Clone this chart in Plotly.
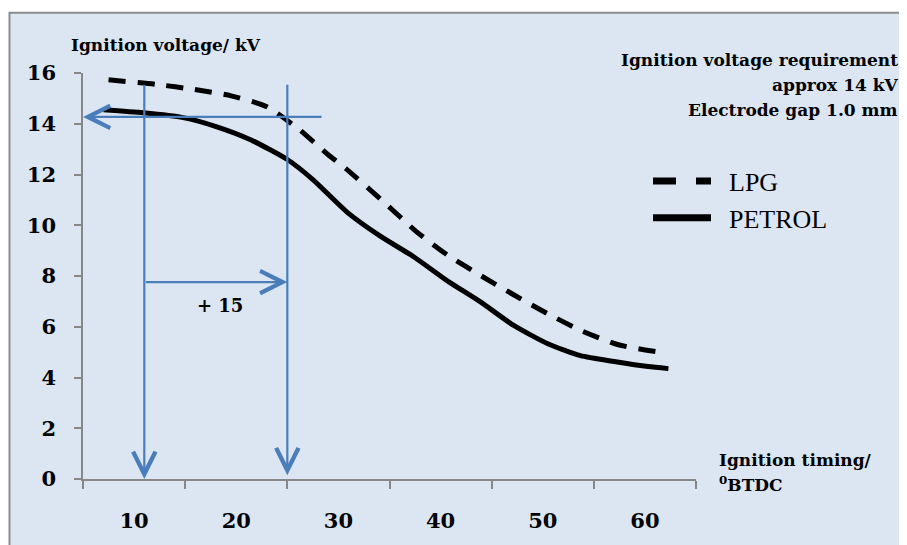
import plotly.graph_objects as go

# ---- data ----
lpg_x = [7.5, 12.2, 15.9, 19.5, 23.0, 26.2, 29.0, 30.7, 34.9, 37.6, 40.7, 44.0, 47.2, 50.5, 53.8, 57.4, 61.1, 62.1]
lpg_y = [15.73, 15.55, 15.35, 15.1, 14.67, 13.76, 12.78, 12.24, 10.75, 9.76, 8.82, 8.0, 7.25, 6.51, 5.84, 5.29, 5.02, 5.0]

petrol_x = [7.0, 10.9, 14.8, 18.1, 21.4, 25.0, 27.5, 30.9, 34.1, 37.4, 40.7, 43.9, 47.2, 50.5, 53.7, 57.0, 60.3, 62.3]
petrol_y = [14.55, 14.43, 14.24, 13.88, 13.37, 12.59, 11.8, 10.5, 9.57, 8.75, 7.8, 6.98, 6.04, 5.33, 4.86, 4.63, 4.43, 4.35]

x_ticks = [10, 20, 30, 40, 50, 60]
x_minor = [5, 15, 25, 35, 45, 55, 65]
y_ticks = [0, 2, 4, 6, 8, 10, 12, 14, 16]

timing_before = 11      # vertical arrow 1
timing_after = 25       # vertical arrow 2
arrow_top = 15.6
req_voltage = 14.27     # horizontal requirement arrow
req_from = 28.5
req_to = 5
shift_level = 7.76      # "+ 15" arrow

BOLD = "DejaVu Serif"
BLUE = "#4a7ebb"
GRAY = "#878787"

OFF = 8                      # page body margin
W, H = 907 - OFF, 545 - OFF
L, R, T, B = 83 - OFF, 907 - 696, 73 - OFF, 545 - 481
pw, ph = W - L - R, H - T - B


def px(xp):
    return (xp - OFF - L) / pw


def py(yp):
    return (H - B - (yp - OFF)) / ph


fig = go.Figure()
fig.add_trace(go.Scatter(x=lpg_x, y=lpg_y, mode="lines", name="LPG", showlegend=False,
                         line=dict(color="black", width=5, dash="17px,12px",
                                   shape="spline", smoothing=0.6)))
fig.add_trace(go.Scatter(x=petrol_x, y=petrol_y, mode="lines", name="PETROL", showlegend=False,
                         line=dict(color="black", width=5, shape="spline", smoothing=0.6)))
# legend entries (legend sample styled like the reference key)
fig.add_trace(go.Scatter(x=[None], y=[None], mode="lines", name="\u00a0\u00a0LPG",
                         line=dict(color="black", width=7, dash="23px,20px")))
fig.add_trace(go.Scatter(x=[None], y=[None], mode="lines", name="\u00a0\u00a0PETROL",
                         line=dict(color="black", width=7)))

# panel background + border
fig.add_shape(type="rect", xref="paper", yref="paper",
              x0=px(9.5), x1=px(915), y0=py(555), y1=py(12.5),
              fillcolor="#dce6f2", line=dict(color="#8c8c8c", width=2), layer="below")

annotations = []


def arrow(x_tip, y_tip, x_tail, y_tail):
    annotations.append(dict(x=x_tip, y=y_tip, ax=x_tail, ay=y_tail, xref="x", yref="y",
                            axref="x", ayref="y", text="", showarrow=True,
                            arrowhead=5, arrowsize=2.0, arrowwidth=2.2,
                            arrowcolor=BLUE, standoff=0, startstandoff=0))


arrow(timing_before, 0, timing_before, arrow_top)
arrow(timing_after, 0.15, timing_after, arrow_top)
arrow(req_to, req_voltage, req_from, req_voltage)
arrow(timing_after, shift_level, timing_before, shift_level)

texts = [
    ("Ignition voltage/ kV", 69, 45, "left", 17),
    ("Ignition voltage requirement", 900, 60, "right", 17),
    ("approx 14 kV", 900, 85, "right", 17),
    ("Electrode gap 1.0 mm", 900, 110, "right", 17),
    ("Ignition timing/", 717, 462, "left", 17),
    ("<sup>0</sup>BTDC", 717, 486, "left", 17),
    ("+ 15", 220, 307, "center", 18),
]
for t, x, y, anc, s in texts:
    annotations.append(dict(text=t, x=px(x), y=py(y), xref="paper", yref="paper",
                            xanchor=anc, yanchor="middle", showarrow=False,
                            font=dict(family=BOLD, size=s, color="black", weight="bold")))

fig.update_layout(
    width=W, height=H,
    margin=dict(l=L, r=R, t=T, b=B, pad=0),
    paper_bgcolor="white", plot_bgcolor="rgba(0,0,0,0)",
    annotations=annotations,
    showlegend=True,
    legend=dict(x=px(648), y=py(158), xanchor="left", yanchor="top",
                bgcolor="rgba(0,0,0,0)", itemwidth=58, tracegroupgap=0,
                font=dict(family="Liberation Serif", size=26, color="black")),
    xaxis=dict(range=[5, 65], tickvals=x_ticks, ticktext=[str(v) for v in x_ticks],
               ticks="", showgrid=False, zeroline=False,
               showline=True, linecolor=GRAY, linewidth=1.5,
               ticklabelstandoff=22,
               tickfont=dict(family=BOLD, size=21, color="black", weight="bold"),
               minor=dict(tickvals=x_minor, ticks="outside", ticklen=8,
                          tickcolor=GRAY, tickwidth=1.5, showgrid=False)),
    yaxis=dict(range=[0, 16], tickvals=y_ticks, ticks="outside", ticklen=7,
               tickcolor=GRAY, tickwidth=1.5, showgrid=False, zeroline=False,
               showline=True, linecolor=GRAY, linewidth=1.5,
               ticklabelstandoff=14,
               tickfont=dict(family=BOLD, size=21, color="black", weight="bold")),
)

fig.write_html("out.html")
